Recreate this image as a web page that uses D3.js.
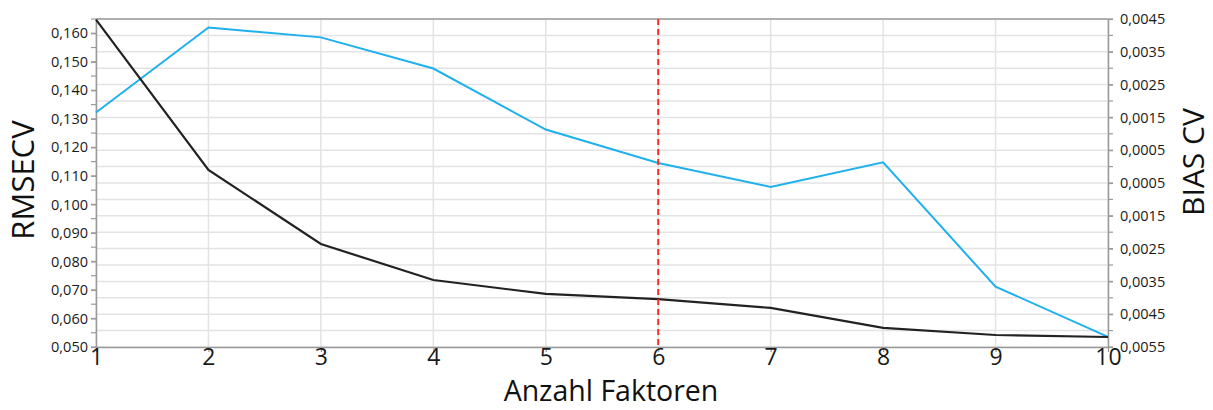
<!DOCTYPE html>
<html>
<head>
<meta charset="utf-8">
<script src="https://cdn.jsdelivr.net/npm/d3@7"></script>
<style>
  html, body { margin: 0; padding: 0; background: #fff; }
  svg { display: block; font-family: "Open Sans", "DejaVu Sans", sans-serif; }
</style>
</head>
<body>
<svg id="chart" width="1213" height="410"></svg>
<script>
// ---- data ----
const factors = [1, 2, 3, 4, 5, 6, 7, 8, 9, 10];
const rmsecv = [0.1648, 0.1121, 0.0861, 0.0735, 0.0686, 0.0668, 0.0637, 0.0567, 0.0542, 0.0535];
const biasCV = [0.00165, 0.00424, 0.00394, 0.00299, 0.00113, 0.00011, -0.00062, 0.00013, -0.00366, -0.00519];
const selectedFactor = 6;
const leftTicks = [0.050, 0.060, 0.070, 0.080, 0.090, 0.100, 0.110, 0.120, 0.130, 0.140, 0.150, 0.160];
const leftTickLabels = ["0,050", "0,060", "0,070", "0,080", "0,090", "0,100", "0,110", "0,120", "0,130", "0,140", "0,150", "0,160"];
const rightTicks = [0.0045, 0.0035, 0.0025, 0.0015, 0.0005, -0.0005, -0.0015, -0.0025, -0.0035, -0.0045, -0.0055];
const rightTickLabels = ["0,0045", "0,0035", "0,0025", "0,0015", "0,0005", "0,0005", "0,0015", "0,0025", "0,0035", "0,0045", "0,0055"];
const leftDomain = [0.050, 0.165];
const rightDomain = [-0.0055, 0.0045];
const xTitle = "Anzahl Faktoren";
const yLeftTitle = "RMSECV";
const yRightTitle = "BIAS CV";

// ---- layout ----
const W = 1213, H = 410;
const m = { left: 96, top: 19, right: 105, bottom: 63 };
const iw = W - m.left - m.right, ih = H - m.top - m.bottom;

const svg = d3.select("#chart");
const g = svg.append("g").attr("transform", `translate(${m.left},${m.top})`);

const x = d3.scaleLinear().domain([1, 10]).range([0, iw]);
const yL = d3.scaleLinear().domain(leftDomain).range([ih, 0]);
const yR = d3.scaleLinear().domain(rightDomain).range([ih, 0]);

// minor ticks
const leftMinor = d3.range(0, 24).map(i => 0.050 + i * 0.005).filter(v => v <= 0.1651);
const rightMinor = d3.range(0, 21).map(i => -0.0055 + i * 0.0005);

// gridlines (horizontal from right axis incl. minor; vertical at each factor)
g.append("g").selectAll("line.h").data(rightMinor).join("line")
  .attr("x1", 0).attr("x2", iw)
  .attr("y1", d => yR(d)).attr("y2", d => yR(d))
  .attr("stroke", "#e3e3e3").attr("stroke-width", 1.5);
g.append("g").selectAll("line.v").data(factors).join("line")
  .attr("x1", d => x(d)).attr("x2", d => x(d))
  .attr("y1", 0).attr("y2", ih)
  .attr("stroke", "#e3e3e3").attr("stroke-width", 1.5);

// top border
g.append("line").attr("x1", 0).attr("x2", iw).attr("y1", 0).attr("y2", 0)
  .attr("stroke", "#9a9a9a").attr("stroke-width", 1.5);

// left axis
const axL = g.append("g").call(d3.axisLeft(yL).tickValues(leftTicks)
  .tickFormat((d, i) => leftTickLabels[i]).tickSize(5).tickSizeOuter(0));
axL.append("g").selectAll("line").data(leftMinor).join("line")
  .attr("x1", -5).attr("x2", 0).attr("y1", d => yL(d)).attr("y2", d => yL(d));
// right axis
const axR = g.append("g").attr("transform", `translate(${iw},0)`)
  .call(d3.axisRight(yR).tickValues(rightTicks)
  .tickFormat((d, i) => rightTickLabels[i]).tickSize(5).tickSizeOuter(0));
axR.append("g").selectAll("line").data(rightMinor).join("line")
  .attr("x1", 0).attr("x2", 5).attr("y1", d => yR(d)).attr("y2", d => yR(d));
// bottom axis
const axB = g.append("g").attr("transform", `translate(0,${ih})`)
  .call(d3.axisBottom(x).tickValues(factors).tickFormat(d3.format("d")).tickSize(5).tickSizeOuter(0));

[axL, axR, axB].forEach(a => {
  a.selectAll("path.domain").attr("stroke", "#9a9a9a").attr("stroke-width", 1.5);
  a.selectAll("line").attr("stroke", "#9a9a9a").attr("stroke-width", 1.2);
  a.selectAll("text").attr("fill", "#1a1a1a").attr("font-family", '"Open Sans", sans-serif');
});
axL.selectAll("text").attr("font-size", 14.5).attr("x", -8);
axR.selectAll("text").attr("font-size", 14.5).attr("x", 12);
axB.selectAll("text").attr("font-size", 23).attr("dy", "0.65em").attr("y", 3);

// lines
const lineL = d3.line().x((d, i) => x(factors[i])).y(d => yL(d));
const lineR = d3.line().x((d, i) => x(factors[i])).y(d => yR(d));

g.append("path").datum(biasCV).attr("d", lineR)
  .attr("fill", "none").attr("stroke", "#1fb0ee").attr("stroke-width", 2);
g.append("path").datum(rmsecv).attr("d", lineL)
  .attr("fill", "none").attr("stroke", "#222").attr("stroke-width", 2.2);

// selected factor marker
g.append("line").attr("x1", x(selectedFactor)).attr("x2", x(selectedFactor))
  .attr("y1", 0).attr("y2", ih)
  .attr("stroke", "#ff2a2a").attr("stroke-width", 2).attr("stroke-dasharray", "6,4");

// titles
svg.append("text").attr("x", 611).attr("y", 401)
  .attr("text-anchor", "middle").attr("font-size", 28.5).attr("fill", "#111").text(xTitle);
svg.append("text").attr("transform", `translate(34,180) rotate(-90)`)
  .attr("text-anchor", "middle").attr("font-size", 31).attr("fill", "#111").text(yLeftTitle);
svg.append("text").attr("transform", `translate(1204,162) rotate(-90)`)
  .attr("text-anchor", "middle").attr("font-size", 30).attr("fill", "#111").text(yRightTitle);
</script>
</body>
</html>
